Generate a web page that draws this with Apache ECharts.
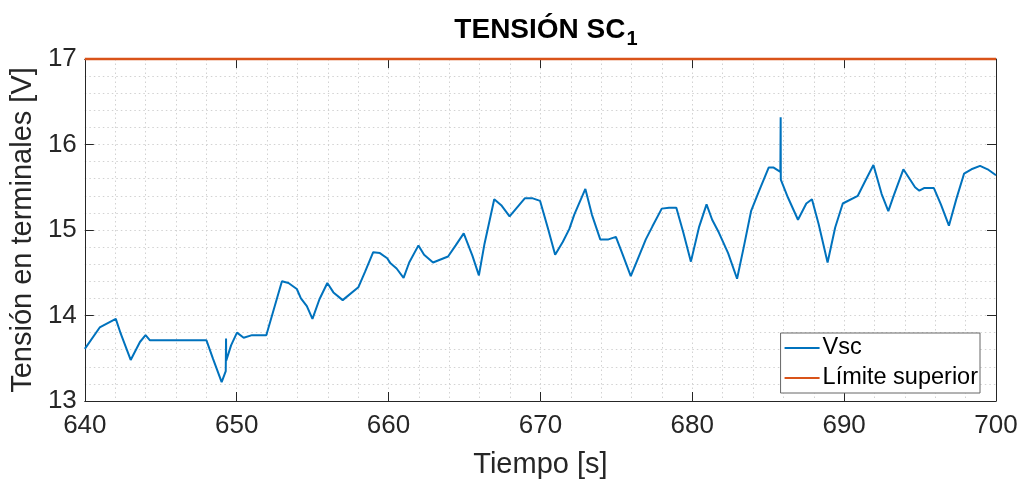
<!DOCTYPE html>
<html>
<head>
<meta charset="utf-8">
<style>
  html, body { margin: 0; padding: 0; background: #ffffff; }
  #chart { width: 1026px; height: 484px; }
</style>
<script src="https://cdn.jsdelivr.net/npm/echarts@6/dist/echarts.min.js"></script>
</head>
<body>
<div id="chart"></div>
<script>
// Supercapacitor terminal voltage vs. time
const tiempo = [
  640.00, 640.98, 642.04, 642.36, 643.02, 643.63, 644.00, 644.29, 648.01, 648.45,
  649.01, 649.28, 649.30, 649.31, 649.63, 650.02, 650.46, 651.01, 651.95, 652.98,
  653.41, 653.96, 654.23, 654.62, 654.99, 655.45, 655.97, 656.37, 656.98, 658.01,
  658.45, 658.99, 659.43, 659.91, 660.13, 660.53, 660.99, 661.36, 661.97, 662.34,
  662.93, 663.92, 664.42, 664.95, 665.52, 665.95, 666.32, 666.96, 667.42, 667.97,
  668.97, 669.50, 669.98, 670.48, 670.97, 671.47, 671.90, 672.23, 672.96, 673.39,
  673.94, 674.48, 674.97, 675.40, 675.95, 676.39, 676.94, 677.37, 677.99, 678.47,
  678.95, 679.41, 679.91, 680.44, 680.94, 681.31, 681.75, 682.36, 682.95, 683.39,
  683.87, 684.38, 685.03, 685.36, 685.80, 685.82, 685.83, 686.30, 686.96, 687.51,
  687.88, 688.32, 688.91, 689.41, 689.91, 690.90, 691.38, 691.93, 692.47, 692.91,
  693.24, 693.90, 694.34, 694.67, 694.95, 695.26, 695.91, 696.37, 696.90, 697.40,
  697.90, 698.38, 698.95, 699.45, 700.00
];
const vsc = [
  13.61, 13.86, 13.96, 13.79, 13.48, 13.69, 13.77, 13.71, 13.71, 13.49,
  13.22, 13.35, 13.73, 13.47, 13.65, 13.80, 13.74, 13.77, 13.77, 14.40,
  14.38, 14.31, 14.20, 14.11, 13.96, 14.19, 14.38, 14.27, 14.18, 14.33,
  14.51, 14.74, 14.73, 14.67, 14.61, 14.55, 14.44, 14.62, 14.82, 14.71,
  14.62, 14.69, 14.82, 14.96, 14.70, 14.47, 14.84, 15.36, 15.29, 15.16,
  15.37, 15.37, 15.34, 15.03, 14.71, 14.86, 15.01, 15.18, 15.48, 15.18,
  14.89, 14.89, 14.92, 14.72, 14.46, 14.65, 14.89, 15.04, 15.25, 15.26,
  15.26, 14.97, 14.63, 15.03, 15.30, 15.12, 14.97, 14.73, 14.43, 14.80,
  15.22, 15.45, 15.73, 15.73, 15.68, 16.32, 15.59, 15.38, 15.12, 15.31,
  15.36, 15.07, 14.62, 15.03, 15.31, 15.40, 15.57, 15.76, 15.42, 15.22,
  15.39, 15.71, 15.59, 15.50, 15.46, 15.49, 15.49, 15.30, 15.05, 15.37,
  15.66, 15.71, 15.75, 15.71, 15.64
];
const tiempoLimite = [640, 700];
const limiteSuperior = [17, 17];

const xTicks = { min: 640, max: 700, interval: 10 };
const yTicks = { min: 13, max: 17, interval: 1 };

const FONT = '"Liberation Sans", Arial, Helvetica, sans-serif';
const AXIS_COLOR = '#262626';
const GRID_LINE = { color: '#d2d2d2', width: 1, type: [1.5, 3] };

const pares = (xs, ys) => xs.map((x, i) => [x, ys[i]]);

const chart = echarts.init(document.getElementById('chart'), null, { renderer: 'canvas' });

// top and right axes close the box and repeat the major ticks
const boxAxis = {
  show: true,
  axisLine: { show: true, onZero: false, lineStyle: { color: AXIS_COLOR, width: 1 } },
  axisTick: { show: true, inside: true, length: 9, lineStyle: { color: AXIS_COLOR, width: 1 } },
  axisLabel: { show: false },
  splitLine: { show: false }
};

chart.setOption({
  animation: false,
  backgroundColor: '#ffffff',
  title: {
    text: '{t|TENSIÓN SC}{s|1}',
    left: 541,
    top: 6,
    textAlign: 'center',
    textStyle: {
      rich: {
        t: { fontFamily: FONT, fontWeight: 'bold', fontSize: 28, color: '#000000', lineHeight: 38, verticalAlign: 'middle' },
        s: { fontFamily: FONT, fontWeight: 'bold', fontSize: 20, color: '#000000', lineHeight: 38, verticalAlign: 'bottom', padding: [16, 0, 0, 1] }
      }
    }
  },
  grid: { left: 84, right: 30, top: 59, bottom: 78, containLabel: false },
  legend: {
    right: 46,
    bottom: 91,
    orient: 'vertical',
    icon: 'rect',
    itemWidth: 35,
    itemHeight: 2,
    itemGap: 6,
    padding: [3, 2, 3, 4],
    backgroundColor: '#ffffff',
    borderColor: '#666666',
    borderWidth: 1,
    borderRadius: 0,
    textStyle: { fontFamily: FONT, fontSize: 23.5, color: '#000000', padding: [0, 0, 0, -2] },
    data: ['Vsc', 'Límite superior']
  },
  xAxis: [
    {
      type: 'value',
      position: 'bottom',
      min: xTicks.min, max: xTicks.max, interval: xTicks.interval,
      name: 'Tiempo [s]',
      nameLocation: 'middle',
      nameGap: 49,
      nameTextStyle: { fontFamily: FONT, fontSize: 29, color: AXIS_COLOR },
      axisLine: { show: true, onZero: false, lineStyle: { color: AXIS_COLOR, width: 1 } },
      axisTick: { show: true, inside: true, length: 9, lineStyle: { color: AXIS_COLOR, width: 1 } },
      axisLabel: { fontFamily: FONT, fontSize: 26, color: AXIS_COLOR, margin: 12 },
      splitLine: { show: true, lineStyle: GRID_LINE },
      minorTick: { show: false, splitNumber: 5 },
      minorSplitLine: { show: true, lineStyle: GRID_LINE }
    },
    Object.assign({ type: 'value', position: 'top', min: xTicks.min, max: xTicks.max, interval: xTicks.interval }, boxAxis)
  ],
  yAxis: [
    {
      type: 'value',
      position: 'left',
      min: yTicks.min, max: yTicks.max, interval: yTicks.interval,
      name: 'Tensión en terminales [V]',
      nameLocation: 'middle',
      nameGap: 43,
      nameTextStyle: { fontFamily: FONT, fontSize: 29, color: AXIS_COLOR },
      axisLine: { show: true, onZero: false, lineStyle: { color: AXIS_COLOR, width: 1 } },
      axisTick: { show: true, inside: true, length: 9, lineStyle: { color: AXIS_COLOR, width: 1 } },
      axisLabel: { fontFamily: FONT, fontSize: 26, color: AXIS_COLOR, margin: 8 },
      splitLine: { show: true, lineStyle: GRID_LINE },
      minorTick: { show: false, splitNumber: 5 },
      minorSplitLine: { show: true, lineStyle: GRID_LINE }
    },
    Object.assign({ type: 'value', position: 'right', min: yTicks.min, max: yTicks.max, interval: yTicks.interval }, boxAxis)
  ],
  series: [
    {
      name: 'Vsc',
      type: 'line',
      data: pares(tiempo, vsc),
      showSymbol: false,
      symbol: 'none',
      color: '#0072BD',
      lineStyle: { color: '#0072BD', width: 2 },
      z: 3
    },
    {
      name: 'Límite superior',
      type: 'line',
      data: pares(tiempoLimite, limiteSuperior),
      showSymbol: false,
      symbol: 'none',
      clip: false,
      color: '#D95319',
      lineStyle: { color: '#D95319', width: 2.5 },
      z: 4
    }
  ]
});
</script>
</body>
</html>
